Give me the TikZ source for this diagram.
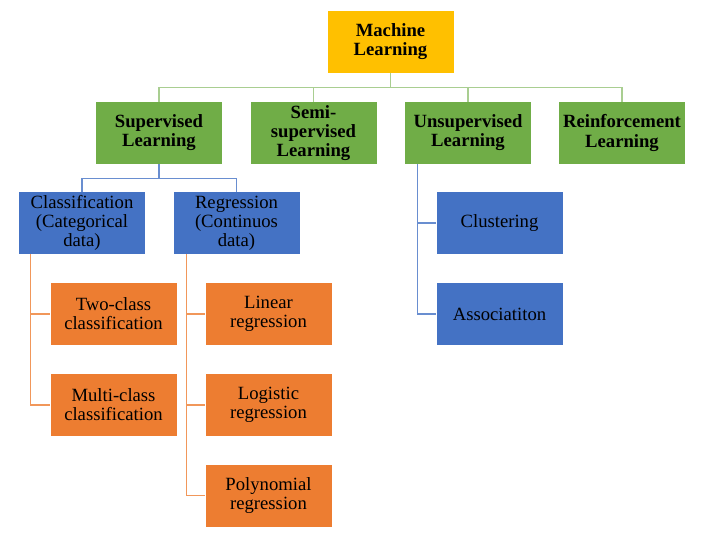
\documentclass[tikz,border=0pt]{standalone}
\usepackage{fontspec}
\setmainfont{Liberation Serif}
\definecolor{mlgold}{HTML}{FFC000}
\definecolor{mlgreen}{HTML}{70AD47}
\definecolor{mlblue}{HTML}{4472C4}
\definecolor{mlorange}{HTML}{ED7D31}
\begin{document}
\begin{tikzpicture}[x=0.75pt,y=-0.75pt,
    box/.style={minimum width=94.5pt,minimum height=46.5pt,inner sep=0pt,
      text width=94pt,align=center,font=\fontsize{14}{14.3}\selectfont},
    topbox/.style={box,fill=mlgold,font=\fontsize{14}{14.3}\selectfont\bfseries},
    greenbox/.style={box,fill=mlgreen,font=\fontsize{14}{14.3}\selectfont\bfseries},
    bluebox/.style={box,fill=mlblue},
    orangebox/.style={box,fill=mlorange},
    gline/.style={draw=mlgreen!60,line width=1pt},
    bline/.style={draw=mlblue!80,line width=0.9pt},
    oline/.style={draw=mlorange!80,line width=0.9pt}]
  \useasboundingbox (0,0) rectangle (707,536);
  \node[topbox] (ml) at (390.5,42) {Machine\\Learning};
  \node[greenbox] (sup) at (159,133) {Supervised\\Learning};
  \node[greenbox] (semi) at (313.5,133) {Semi-\\supervised\\Learning};
  \node[greenbox] (uns) at (468,133) {Unsupervised\\Learning};
  \node[greenbox] (rein) at (622,133) {Reinforcement\\Learning};
  \node[bluebox] (cls) at (82,223) {Classification\\(Categorical\\data)};
  \node[bluebox] (reg) at (236.5,223) {Regression\\(Continuos\\data)};
  \node[bluebox] (clu) at (499.5,223) {Clustering};
  \node[bluebox] (asso) at (499.5,314) {Associatiton};
  \node[orangebox] (two) at (113.5,314) {Two-class\\classification};
  \node[orangebox] (multi) at (113.5,405) {Multi-class\\classification};
  \node[orangebox] (lin) at (268.5,314) {Linear\\regression};
  \node[orangebox] (logi) at (268.5,405) {Logistic\\regression};
  \node[orangebox] (poly) at (268.5,495.5) {Polynomial\\regression};
  % tree lines
  \foreach \n in {sup,semi,uns,rein}
    \draw[gline] (ml.south) -- ++(0,14) -| (\n.north);
  \foreach \n in {cls,reg}
    \draw[bline] (sup.south) -- ++(0,14) -| (\n.north);
  \foreach \n in {clu,asso}
    \draw[bline] ([xshift=9.75pt]uns.south west) |- (\n.west);
  \foreach \n in {two,multi}
    \draw[oline] ([xshift=9pt]cls.south west) |- (\n.west);
  \foreach \n in {lin,logi,poly}
    \draw[oline] ([xshift=9.75pt]reg.south west) |- (\n.west);
\end{tikzpicture}
\end{document}
